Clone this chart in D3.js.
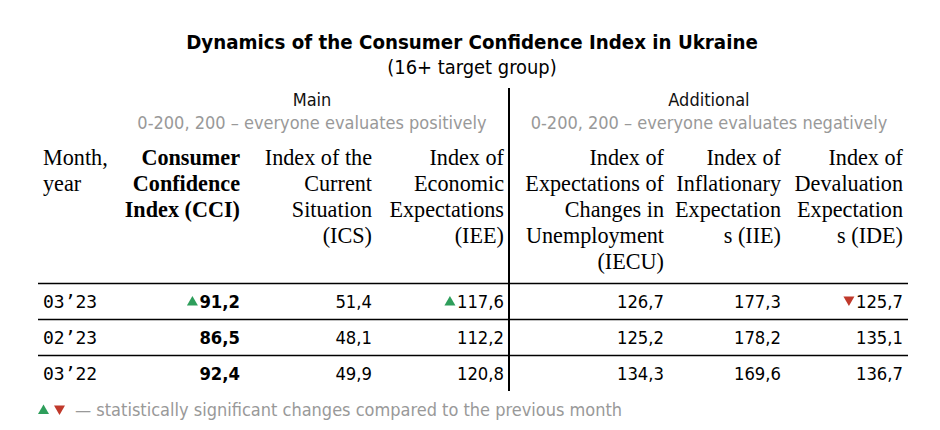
<!DOCTYPE html>
<html><head><meta charset="utf-8">
<script src="https://cdn.jsdelivr.net/npm/d3@7"></script>
<style>
html,body{margin:0;padding:0;background:#fff;}
</style></head>
<body>
<svg id="chart" width="940" height="430"></svg>
<script>
const title = "Dynamics of the Consumer Confidence Index in Ukraine";
const subtitle = "(16+ target group)";
const groupNames = ["Main", "Additional"];
const groupNotes = ["0-200, 200 – everyone evaluates positively", "0-200, 200 – everyone evaluates negatively"];
const headers = [
  ["Month,", "year"],
  ["Consumer", "Confidence", "Index (CCI)"],
  ["Index of the", "Current", "Situation", "(ICS)"],
  ["Index of", "Economic", "Expectations", "(IEE)"],
  ["Index of", "Expectations of", "Changes in", "Unemployment", "(IECU)"],
  ["Index of", "Inflationary", "Expectation", "s (IIE)"],
  ["Index of", "Devaluation", "Expectation", "s (IDE)"]
];
const months = ["03’23", "02’23", "03’22"];
const cci  = [91.2, 86.5, 92.4];
const ics  = [51.4, 48.1, 49.9];
const iee  = [117.6, 112.2, 120.8];
const iecu = [126.7, 125.2, 134.3];
const iie  = [177.3, 178.2, 169.6];
const ide  = [125.7, 135.1, 136.7];
// significance markers: 1 up, -1 down, 0 none
const cciSig = [1, 0, 0];
const icsSig = [0, 0, 0];
const ieeSig = [1, 0, 0];
const iecuSig = [0, 0, 0];
const iieSig = [0, 0, 0];
const ideSig = [-1, 0, 0];
const footnote = "— statistically significant changes compared to the previous month";

const series = [cci, ics, iee, iecu, iie, ide];
const sigs = [cciSig, icsSig, ieeSig, iecuSig, iieSig, ideSig];

const svg = d3.select("#chart");
const SANS = "'DejaVu Sans Condensed', 'DejaVu Sans', sans-serif";
const SERIF = "'Liberation Serif', 'Times New Roman', serif";
const MONO = "'DejaVu Sans Mono', monospace";
const GREEN = "#2e9e5b", RED = "#c0392b", GRAY = "#999999";

// column right edges (col 0 uses left edge)
const colRight = [43, 240, 372, 504, 664, 781, 903];
const dividerX = 509;

svg.append("text").attr("x", 472).attr("y", 49).attr("text-anchor", "middle")
  .attr("font-family", SANS).attr("font-weight", "bold").attr("font-size", 20.3)
  .attr("fill", "#000").text(title);
svg.append("text").attr("x", 472).attr("y", 74).attr("text-anchor", "middle")
  .attr("font-family", SANS).attr("font-size", 19.9)
  .attr("fill", "#000").text(subtitle);

const groupX = [312, 709];
groupNames.forEach((g, i) => {
  svg.append("text").attr("x", groupX[i]).attr("y", 106).attr("text-anchor", "middle")
    .attr("font-family", SANS).attr("font-size", 18).attr("fill", "#111").text(g);
  svg.append("text").attr("x", groupX[i]).attr("y", 129).attr("text-anchor", "middle")
    .attr("font-family", SANS).attr("font-size", 18).attr("fill", GRAY).text(groupNotes[i]);
});

// header
const headerY = d3.scaleLinear().domain([0, 1]).range([165, 191]);
headers.forEach((lines, c) => {
  const t = svg.append("text")
    .attr("font-family", SERIF).attr("font-size", 22.2)
    .attr("font-weight", c === 1 ? "bold" : "normal")
    .attr("fill", "#000")
    .attr("text-anchor", c === 0 ? "start" : "end");
  lines.forEach((ln, k) => {
    t.append("tspan").attr("x", colRight[c]).attr("y", headerY(k)).text(ln);
  });
});

// rows
const rowScale = d3.scaleBand().domain(months).range([283.5, 391.5]);
const fmt = v => d3.format(".1f")(v).replace(".", ",");

const lineX0 = 38, lineX1 = 908;
months.forEach((m, r) => {
  const y0 = rowScale(m);
  svg.append("line").attr("x1", lineX0).attr("x2", lineX1).attr("y1", y0).attr("y2", y0)
    .attr("stroke", "#000").attr("stroke-width", 1.5);
  const by = y0 + rowScale.bandwidth() / 2 + 6.5;
  svg.append("text").attr("x", colRight[0]).attr("y", by)
    .attr("font-family", MONO).attr("font-size", 18).attr("fill", "#000").text(m);
  series.forEach((s, c) => {
    const txt = svg.append("text").attr("x", colRight[c + 1]).attr("y", by)
      .attr("text-anchor", "end").attr("font-family", SANS)
      .attr("font-size", 18.3).attr("font-weight", c === 0 ? "bold" : "normal")
      .attr("fill", "#000").text(fmt(s[r]));
    const sg = sigs[c][r];
    if (sg !== 0) {
      const w = txt.node().getComputedTextLength();
      const cx = colRight[c + 1] - w - 7;
      const cy = by - 7;
      const p = sg > 0
        ? `M${cx - 5.5},${cy + 4.5}L${cx + 5.5},${cy + 4.5}L${cx},${cy - 5}Z`
        : `M${cx - 5.5},${cy - 4.5}L${cx + 5.5},${cy - 4.5}L${cx},${cy + 5}Z`;
      svg.append("path").attr("d", p).attr("fill", sg > 0 ? GREEN : RED);
    }
  });
});

// divider
svg.append("line").attr("x1", dividerX).attr("x2", dividerX).attr("y1", 88).attr("y2", 391)
  .attr("stroke", "#000").attr("stroke-width", 2);

// footnote
const fy = 410;
svg.append("path").attr("d", `M${38},${fy + 4}L${49},${fy + 4}L${43.5},${fy - 5.5}Z`).attr("fill", GREEN);
svg.append("path").attr("d", `M${54},${fy - 4.5}L${65},${fy - 4.5}L${59.5},${fy + 5}Z`).attr("fill", RED);
svg.append("text").attr("x", 75).attr("y", fy + 6).attr("font-family", SANS).attr("font-size", 18)
  .attr("fill", GRAY).text(footnote);
</script>
</body></html>
